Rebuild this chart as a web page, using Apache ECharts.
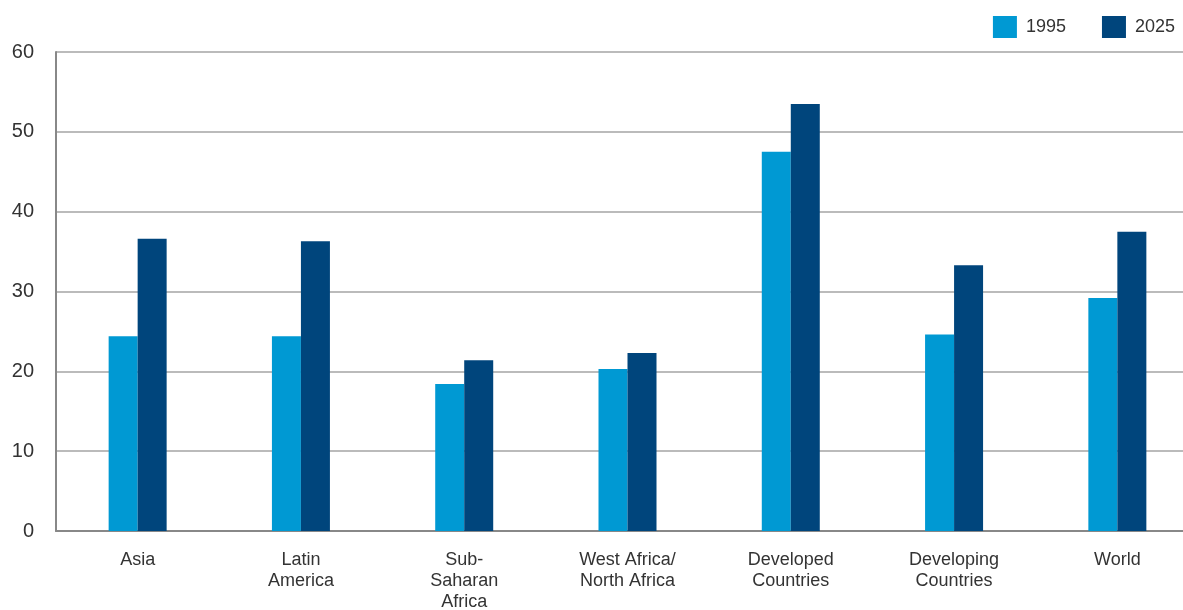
<!DOCTYPE html>
<html>
<head>
<meta charset="utf-8">
<script src="https://cdn.jsdelivr.net/npm/echarts@6/dist/echarts.min.js"></script>
<style>
  html, body { margin: 0; padding: 0; background: #fff; }
  #chart { width: 1183px; height: 610px; }
</style>
</head>
<body>
<div id="chart"></div>
<script>
// Regions shown along the horizontal axis
const regions = [
  'Asia',
  'Latin\nAmerica',
  'Sub-\nSaharan\nAfrica',
  'West Africa/\nNorth Africa',
  'Developed\nCountries',
  'Developing\nCountries',
  'World'
];

// Values per region for each year
const values1995 = [24.4, 24.4, 18.4, 20.3, 47.5, 24.6, 29.2];
const values2025 = [36.6, 36.3, 21.4, 22.3, 53.5, 33.3, 37.5];

const seriesNames = ['1995', '2025'];
const colors = ['#0099d3', '#00457c'];

const chart = echarts.init(document.getElementById('chart'));

const font = '"Liberation Sans", Arial, Helvetica, sans-serif';

chart.setOption({
  animation: false,
  color: colors,
  textStyle: { fontFamily: font },
  legend: {
    data: seriesNames,
    right: 3,
    top: 11,
    itemWidth: 24,
    itemHeight: 22,
    itemGap: 36,
    icon: 'rect',
    textStyle: { fontSize: 18, color: '#333', fontFamily: font, padding: [0, 0, 0, 4] }
  },
  grid: {
    left: 56,
    right: -16,
    top: 52,
    bottom: 79,
    containLabel: false,
    outerBoundsMode: 'none'
  },
  xAxis: {
    type: 'category',
    data: regions,
    axisLine: { show: true, lineStyle: { color: '#888', width: 2 } },
    axisTick: { show: false },
    axisLabel: {
      color: '#333',
      fontSize: 18,
      lineHeight: 21,
      margin: 19,
      fontFamily: font,
      interval: 0
    }
  },
  yAxis: {
    type: 'value',
    min: 0,
    max: 60,
    interval: 10,
    axisLine: { show: true, lineStyle: { color: '#888', width: 2 } },
    axisTick: { show: false },
    splitLine: { lineStyle: { color: '#bbb', width: 2 } },
    axisLabel: {
      color: '#333',
      fontSize: 20,
      margin: 22,
      fontFamily: font
    }
  },
  series: [
    {
      name: seriesNames[0],
      type: 'bar',
      data: values1995,
      barWidth: 29,
      barGap: '0%'
    },
    {
      name: seriesNames[1],
      type: 'bar',
      data: values2025,
      barWidth: 29,
      barGap: '0%'
    }
  ]
});
</script>
</body>
</html>
